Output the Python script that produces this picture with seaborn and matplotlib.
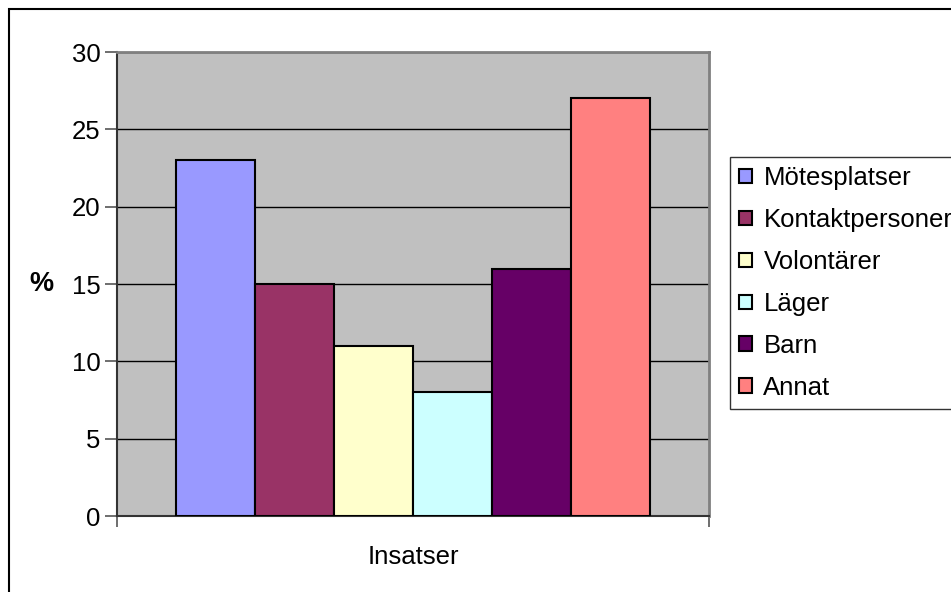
import pandas as pd
import numpy as np
import matplotlib
matplotlib.use("Agg")
import matplotlib.pyplot as plt
from matplotlib.patches import Rectangle
import seaborn as sns

# data
category = ["Insatser"]
series = ["Mötesplatser", "Kontaktpersoner", "Volontärer", "Läger", "Barn", "Annat"]
values = [23, 15, 11, 8, 16, 27]
colors = ["#9999FF", "#993366", "#FFFFCC", "#CCFFFF", "#660066", "#FF8080"]
yticks = [0, 5, 10, 15, 20, 25, 30]

FS = 18.5


def draw_chart():
    df = pd.DataFrame({
        "kategori": category * len(series),
        "serie": series,
        "procent": values,
    })

    sns.set_style("white")
    plt.rcParams["font.family"] = ["Liberation Sans", "DejaVu Sans"]
    plt.rcParams["text.color"] = "black"
    plt.rcParams["axes.labelcolor"] = "black"
    plt.rcParams["xtick.labelcolor"] = "black"
    plt.rcParams["ytick.labelcolor"] = "black"

    fig = plt.figure(figsize=(9.51, 5.92), dpi=100)
    ax = fig.add_axes([117 / 951, 1 - 516 / 592, 592 / 951, 464 / 592])
    ax.set_facecolor("#C0C0C0")

    sns.barplot(data=df, x="kategori", y="procent", hue="serie",
                hue_order=series, palette=colors, saturation=1, width=0.8,
                edgecolor="black", linewidth=1.5, ax=ax, zorder=3)

    ax.set_xlim(-0.5, 0.5)
    ax.set_ylim(0, 30)
    ax.set_yticks(yticks)
    ax.yaxis.grid(True, color="black", linewidth=1, zorder=1)
    ax.set_axisbelow(True)

    for side in ["top", "right"]:
        ax.spines[side].set_color("#808080")
        ax.spines[side].set_linewidth(2)
    for side in ["left", "bottom"]:
        ax.spines[side].set_color("#333333")
        ax.spines[side].set_linewidth(1.5)

    ax.tick_params(axis="y", direction="out", length=9, width=1.2,
                   color="#555555", labelcolor="black", labelsize=FS,
                   pad=3, left=True)
    ax.set_xticks([0])
    ax.set_xticklabels(category)
    ax.tick_params(axis="x", which="major", length=0, labelsize=FS,
                   labelcolor="black", pad=21)
    ax.set_xticks([-0.5, 0.5], minor=True)
    ax.tick_params(axis="x", which="minor", direction="out", length=8,
                   width=1.2, color="#555555", bottom=True)

    ax.set_xlabel("")
    ax.set_ylabel("%", fontsize=FS + 1, fontweight="bold", rotation=0,
                  labelpad=22, va="center", color="black")

    handles, labels = ax.get_legend_handles_labels()
    leg = ax.legend(handles, labels, loc="upper left",
                    bbox_to_anchor=(730 / 951, 1 - 157 / 592),
                    bbox_transform=fig.transFigure, fontsize=FS,
                    frameon=True, fancybox=False, edgecolor="black",
                    handlelength=0.5, handleheight=0.5, handletextpad=0.45,
                    labelspacing=0.7, borderpad=0.35, borderaxespad=0)
    leg.get_frame().set_linewidth(1)
    for txt in leg.get_texts():
        txt.set_color("black")

    # outer chart border
    fig.patches.append(Rectangle((9 / 951, -0.1), 1.2, 1.1 - 9 / 592,
                                 transform=fig.transFigure, fill=False,
                                 edgecolor="black", linewidth=1.5))

    fig.savefig("out.png", dpi=100, facecolor="white")


if __name__ == "__main__":
    draw_chart()
